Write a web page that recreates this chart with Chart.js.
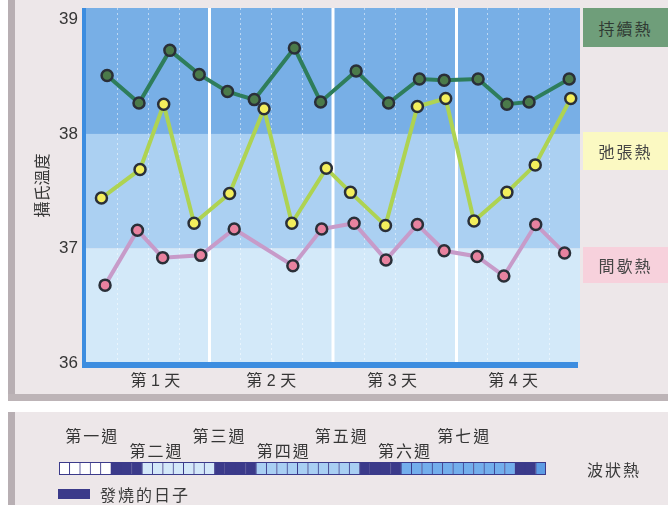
<!DOCTYPE html>
<html>
<head>
<meta charset="utf-8">
<title>熱型</title>
<script src="https://cdn.jsdelivr.net/npm/chart.js@4.4.1/dist/chart.umd.min.js"></script>
<style>
  html, body { margin: 0; padding: 0; background: #ffffff; }
  #wrap { position: relative; width: 672px; height: 505px; overflow: hidden; background: #ffffff;
          font-family: "Noto Sans CJK TC", sans-serif; color: #3a3a3a; }
  .panel { position: absolute; left: 8px; width: 660px; background: #ede7e9; }
  #panelTop { top: 0; height: 401px; }
  #panelBottom { top: 412px; height: 93px; }
  .lstrip { position: absolute; left: 0; top: 0; bottom: 0; width: 7px; background: #b8afb3; }
  .bstrip { position: absolute; left: 0; right: 0; bottom: 0; height: 7px; background: #bdb4b7; }
  canvas { position: absolute; left: 0; }
  #tempChart { top: 0; }
  #stripChart { top: 412px; }
  .tag { position: absolute; left: 583px; width: 85px; display: flex; align-items: center;
         justify-content: center; font-size: 16px; letter-spacing: 2px; color: #454545; }
  #tagCont { top: 8px; height: 39px; background: #6f9e7a; color: #2f3a33; }
  #tagRemit { top: 132px; height: 38px; background: #fbf9c2; }
  #tagInter { top: 247px; height: 36px; background: #f7d1dc; }
  #undulant { position: absolute; left: 587px; top: 457px; font-size: 16px; letter-spacing: 2px; }
  #feverKey { position: absolute; left: 58px; top: 482px; display: flex; align-items: center;
              font-size: 16px; letter-spacing: 2px; }
  #feverKey span.sw { display: inline-block; width: 32px; height: 10px; background: #3b3a8a; margin-right: 10px; }
</style>
</head>
<body>
<div id="wrap">
  <div class="panel" id="panelTop"><div class="lstrip"></div><div class="bstrip"></div></div>
  <div class="panel" id="panelBottom"><div class="lstrip"></div></div>
  <canvas id="tempChart" width="672" height="401"></canvas>
  <canvas id="stripChart" width="672" height="93"></canvas>
  <div class="tag" id="tagCont">持續熱</div>
  <div class="tag" id="tagRemit">弛張熱</div>
  <div class="tag" id="tagInter">間歇熱</div>
  <div id="undulant">波狀熱</div>
  <div id="feverKey"><span class="sw"></span>發燒的日子</div>
</div>
<script>
// ---- temperature readings (x = hours since start, y = °C) ----
const contHours  = [4.1, 10.3, 16.3, 22.0, 27.5, 32.7, 40.5, 45.6, 52.5, 58.8, 64.8, 69.6, 76.2, 81.8, 86.1, 93.9];
const contTemps  = [38.51, 38.27, 38.73, 38.52, 38.37, 38.30, 38.75, 38.28, 38.55, 38.27, 38.48, 38.47, 38.48, 38.26, 38.28, 38.48];

const remitHours = [3.0, 10.5, 15.1, 21.0, 27.9, 34.6, 40.0, 46.7, 51.4, 58.2, 64.4, 69.9, 75.4, 81.8, 87.3, 94.2];
const remitTemps = [37.44, 37.69, 38.26, 37.22, 37.48, 38.22, 37.22, 37.70, 37.49, 37.20, 38.24, 38.31, 37.24, 37.49, 37.73, 38.31];

const interHours = [3.7, 10.0, 14.9, 22.3, 28.8, 40.2, 45.8, 52.1, 58.3, 64.4, 69.6, 76.0, 81.2, 87.4, 93.0];
const interTemps = [36.68, 37.16, 36.92, 36.94, 37.17, 36.85, 37.17, 37.22, 36.90, 37.21, 36.98, 36.93, 36.76, 37.21, 36.96];

const seriesNames = ['持續熱', '弛張熱', '間歇熱'];

// ---- axes ----
const yTickValues = [36, 37, 38, 39];
const yRange = [36, 39.1];
const hourRange = [0, 96];
const dayLabels = ['第 1 天', '第 2 天', '第 3 天', '第 4 天'];
const dayLabelHours = [13.5, 36, 59.5, 83];
const dayBoundaries = [24, 48, 72];
const quarterMarks = [6, 12, 18, 30, 36, 42, 54, 60, 66, 78, 84, 90];
const zoneEdges = [39.1, 38, 37, 36];

// ---- undulant fever strip: alternating day counts, starting with afebrile days ----
const stripSegments = [5, 3, 7, 4, 10, 4, 11, 2, 1];
const weekLabels = ['第一週', '第二週', '第三週', '第四週', '第五週', '第六週', '第七週'];
const weekLabelDays = [2.7, 8.9, 15.0, 21.2, 26.8, 32.9, 38.6];

// ---- styles ----
const zoneColors = ['#78afe6', '#abd0f2', '#d3e9f9'];
const axisBlue = '#3c8de0';
const textColor = '#363636';
const ringColor = '#2a2f38';
const feverNavy = '#3b3a8a';
const afebrileShades = ['#ffffff', '#d4e8f9', '#a9cff3', '#73aeec', '#5d9ce4'];

function toPoints(xs, ys) { return xs.map((x, i) => ({ x: x, y: ys[i] })); }

const backdrop = {
  id: 'feverBackdrop',
  beforeDatasetsDraw(chart) {
    const { ctx, chartArea: a, scales: { x, y } } = chart;
    ctx.save();
    for (let i = 0; i < zoneEdges.length - 1; i++) {
      const y0 = y.getPixelForValue(zoneEdges[i]);
      const y1 = y.getPixelForValue(zoneEdges[i + 1]);
      ctx.fillStyle = zoneColors[i];
      ctx.fillRect(a.left, y0, a.right - a.left, y1 - y0);
    }
    ctx.strokeStyle = 'rgba(255,255,255,0.5)';
    ctx.lineWidth = 1;
    ctx.setLineDash([2, 3]);
    quarterMarks.forEach(h => {
      const px = Math.round(x.getPixelForValue(h)) + 0.5;
      ctx.beginPath(); ctx.moveTo(px, a.top); ctx.lineTo(px, a.bottom); ctx.stroke();
    });
    ctx.setLineDash([]);
    ctx.strokeStyle = '#ffffff';
    ctx.lineWidth = 3;
    dayBoundaries.forEach(h => {
      const px = x.getPixelForValue(h);
      ctx.beginPath(); ctx.moveTo(px, a.top); ctx.lineTo(px, a.bottom); ctx.stroke();
    });
    ctx.fillStyle = axisBlue;
    ctx.fillRect(a.left - 4, a.top, 4, a.bottom - a.top + 5);
    ctx.fillRect(a.left - 4, a.bottom - 1, a.right - a.left + 2, 6);
    ctx.restore();
  }
};

function noEdgePadding(s) {
  s.paddingTop = 0; s.paddingBottom = 0; s.paddingLeft = 0; s.paddingRight = 0;
}

new Chart(document.getElementById('tempChart'), {
  type: 'line',
  data: {
    datasets: [
      { label: seriesNames[0], data: toPoints(contHours, contTemps), order: 3,
        borderColor: '#2e7d5b', pointBackgroundColor: '#4b7a4a', pointBorderColor: ringColor },
      { label: seriesNames[1], data: toPoints(remitHours, remitTemps), order: 2,
        borderColor: '#aed352', pointBackgroundColor: '#f3ee5c', pointBorderColor: ringColor },
      { label: seriesNames[2], data: toPoints(interHours, interTemps), order: 1,
        borderColor: '#c79bc9', pointBackgroundColor: '#e8829f', pointBorderColor: ringColor }
    ]
  },
  options: {
    responsive: false,
    devicePixelRatio: 1,
    animation: false,
    layout: { padding: { left: 0, right: 92, top: 7, bottom: 0 } },
    elements: {
      line: { borderWidth: 4, tension: 0 },
      point: { radius: 5.5, borderWidth: 2.5, hoverRadius: 5.5 }
    },
    plugins: { legend: { display: false }, tooltip: { enabled: false } },
    scales: {
      x: {
        type: 'linear', min: hourRange[0], max: hourRange[1],
        grid: { display: false, drawTicks: false }, border: { display: false },
        afterBuildTicks: s => { s.ticks = dayLabelHours.map(v => ({ value: v })); },
        afterFit: s => { s.height = 38; noEdgePadding(s); },
        ticks: {
          autoSkip: false, maxRotation: 0, padding: 9, color: textColor,
          font: { family: "'Liberation Sans', 'Noto Sans CJK TC'", size: 16 },
          callback: (v, i) => dayLabels[i]
        }
      },
      y: {
        type: 'linear', min: yRange[0], max: yRange[1],
        grid: { display: false, drawTicks: false }, border: { display: false },
        afterBuildTicks: s => { s.ticks = yTickValues.map(v => ({ value: v })); },
        afterFit: s => { s.width = 86; noEdgePadding(s); },
        ticks: {
          padding: 8, color: textColor,
          font: { family: "'Liberation Sans', Arial, sans-serif", size: 17 }
        },
        title: {
          display: true, text: '攝氏溫度', color: textColor,
          font: { family: "'Noto Sans CJK TC'", size: 16 },
          padding: { top: 32, bottom: 0 }
        }
      }
    }
  },
  plugins: [backdrop]
});

// ---- strip chart: one cell per day ----
const dayCells = [];
stripSegments.forEach((count, seg) => {
  for (let k = 0; k < count; k++) {
    dayCells.push(seg % 2 === 1 ? feverNavy : afebrileShades[seg / 2]);
  }
});
const dayIndex = dayCells.map((c, i) => String(i + 1));
const cellValues = dayCells.map(() => 1);

const weekNames = {
  id: 'weekNames',
  afterDraw(chart) {
    const { ctx, chartArea: a, scales: { x } } = chart;
    ctx.save();
    ctx.font = "16px 'Noto Sans CJK TC'";
    ctx.letterSpacing = '2px';
    ctx.fillStyle = textColor;
    ctx.textAlign = 'center';
    ctx.textBaseline = 'middle';
    weekLabels.forEach((t, i) => {
      const px = x.getPixelForValue(weekLabelDays[i]);
      ctx.fillText(t, px, a.top - (i % 2 === 0 ? 26 : 11));
    });
    ctx.strokeStyle = feverNavy;
    ctx.lineWidth = 1;
    ctx.strokeRect(a.left + 0.5, a.top + 0.5, a.right - a.left - 1, a.bottom - a.top - 1);
    ctx.restore();
  }
};

new Chart(document.getElementById('stripChart'), {
  type: 'bar',
  data: {
    labels: dayIndex,
    datasets: [{
      data: cellValues,
      backgroundColor: dayCells,
      borderColor: feverNavy,
      borderWidth: { left: 1, top: 1, bottom: 1, right: 0 },
      borderSkipped: false,
      categoryPercentage: 1,
      barPercentage: 1
    }]
  },
  options: {
    responsive: false,
    devicePixelRatio: 1,
    animation: false,
    layout: { padding: { left: 59, right: 126, top: 50, bottom: 30 } },
    plugins: { legend: { display: false }, tooltip: { enabled: false } },
    scales: {
      x: { display: false },
      y: { display: false, min: 0, max: 1 }
    }
  },
  plugins: [weekNames]
});
</script>
</body>
</html>
